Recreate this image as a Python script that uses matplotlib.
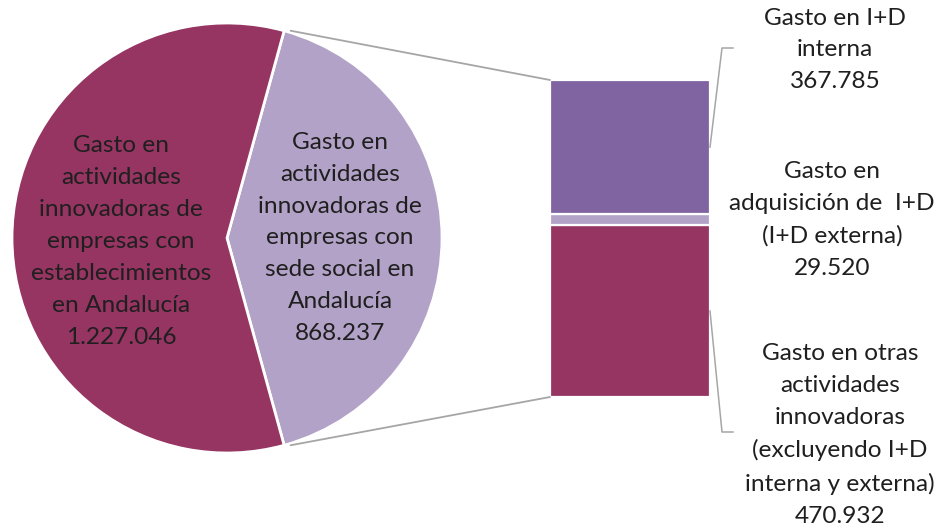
import matplotlib
matplotlib.use("Agg")
import matplotlib.pyplot as plt
import numpy as np
from matplotlib.patches import ConnectionPatch
from matplotlib.lines import Line2D

# ---- data ----
pie_labels = ["Gasto en\nactividades\ninnovadoras de\nempresas con\nsede social en\nAndalucía\n868.237",
              "Gasto en\nactividades\ninnovadoras de\nempresas con\nestablecimientos\nen Andalucía\n1.227.046"]
pie_values = [868237, 1227046]
bar_labels = ["Gasto en otras\nactividades\ninnovadoras\n(excluyendo I+D\ninterna y externa)\n470.932",
              "Gasto en\nadquisición de  I+D\n(I+D externa)\n29.520",
              "Gasto en I+D\ninterna\n367.785"]
bar_values = [470932, 29520, 367785]

pie_colors = ["#B3A2C7", "#963462"]
bar_colors = ["#963462", "#B3A2C7", "#8064A2"]

W, H = 938, 529
DPI = 100
plt.rcParams['font.family'] = ['Lato', 'DejaVu Sans']
fig = plt.figure(figsize=(W / DPI, H / DPI), dpi=DPI)
fig.patch.set_facecolor("white")

def fx(px):
    return px / W

def fy(py):
    return 1 - py / H

# ---- pie ----
cx, cy, R = 227, 238, 215
axp = fig.add_axes([fx(cx - R), fy(cy + R), 2 * R / W, 2 * R / H])
light_frac = pie_values[0] / sum(pie_values)
half_angle = light_frac * 180
wedges, _ = axp.pie(pie_values, colors=pie_colors, startangle=-half_angle,
                    counterclock=True, radius=1,
                    wedgeprops=dict(edgecolor="white", linewidth=2))
axp.set_xlim(-1, 1)
axp.set_ylim(-1, 1)
axp.set_aspect("auto")
axp.axis("off")

txt_kw = dict(fontsize=17.6, color="#1F1F1F", ha="center", va="center", linespacing=1.64)
axp.text(0.526, 0.0, pie_labels[0], **txt_kw)
axp.text(-0.493, -0.016, pie_labels[1], **txt_kw)

# ---- bar ----
bx0, bx1, by0, by1 = 550, 710, 80, 397
axb = fig.add_axes([fx(bx0), fy(by1), (bx1 - bx0) / W, (by1 - by0) / H])
bottom = 0
mids = []
for v, c in zip(bar_values, bar_colors):
    axb.bar(0, v, bottom=bottom, width=1.0, color=c, edgecolor="white", linewidth=1.6)
    mids.append(bottom + v / 2)
    bottom += v
axb.set_xlim(-0.5, 0.5)
axb.set_ylim(0, sum(bar_values))
axb.axis("off")

# ---- connectors ----
ang = np.deg2rad(half_angle)
for sgn, yb in [(1, sum(bar_values)), (-1, 0)]:
    con = ConnectionPatch(xyA=(np.cos(ang) + 0.03, sgn * np.sin(ang)), coordsA=axp.transData,
                          xyB=(-0.5, yb), coordsB=axb.transData,
                          color="#A6A6A6", linewidth=1.3)
    fig.add_artist(con)

# ---- leader lines ----
def bar_px(x, y):
    X, Y = axb.transData.transform((x, y))
    return X / W, Y / H

for idx, (yk, xk2) in {2: (48, 733), 0: (432, 733)}.items():
    sx, sy = bar_px(0.5, mids[idx])
    fig.add_artist(Line2D([sx, fx(722), fx(xk2)], [sy, fy(yk), fy(yk)],
                          color="#A6A6A6", linewidth=1.1, transform=fig.transFigure))

# ---- bar labels ----
fig.text(fx(835), fy(50), bar_labels[2], **txt_kw)
fig.text(fx(832), fy(220), bar_labels[1], **txt_kw)
fig.text(fx(840), fy(435), bar_labels[0], **txt_kw)

fig.savefig("out.png", dpi=DPI, facecolor="white")
